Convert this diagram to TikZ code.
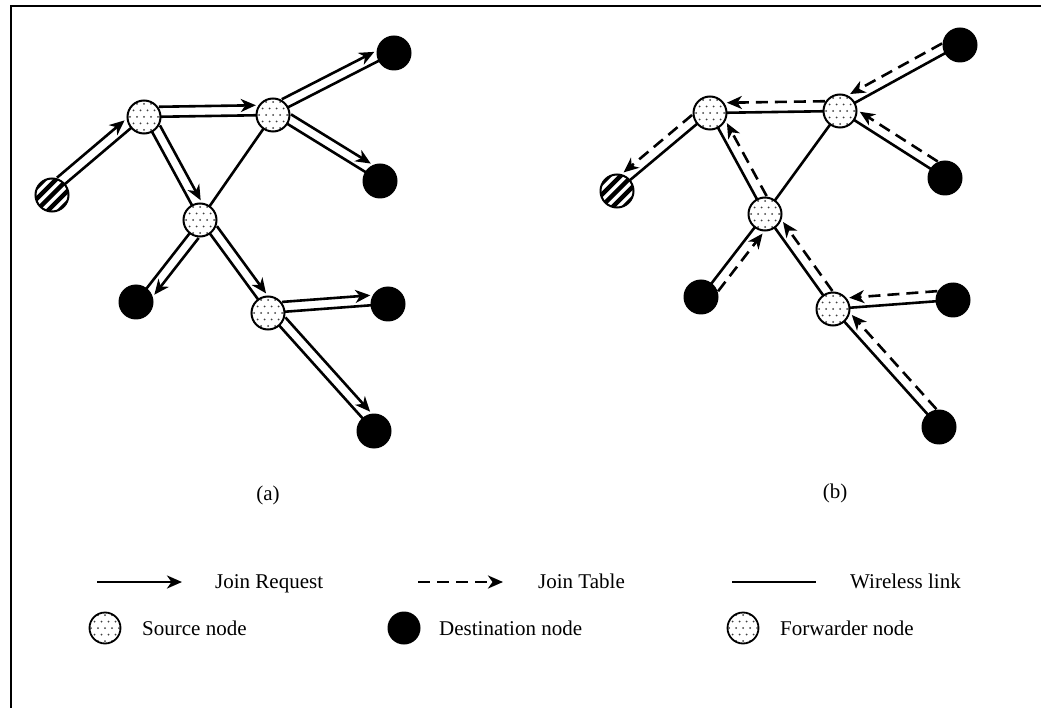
\documentclass[tikz,border=0pt]{standalone}
\usepackage{fontspec}
\setmainfont{Liberation Serif}
\usetikzlibrary{arrows.meta,calc}

% offset flow arrow running beside a link: style, from, to, side angle, opposite angle
\newcommand\flowline[5]{%
  \draw[#1] ($($(#2)!15pt!(#3)$)!10pt!#4:(#3)$) -- ($($(#3)!17pt!(#2)$)!10pt!#5:(#2)$);%
}

\tikzset{
  link/.style={line width=2.6pt},
  jr/.style={line width=2.6pt, -{Stealth[length=15pt,width=13pt,inset=4.5pt]}},
  jt/.style={jr, dash pattern=on 12pt off 7pt},
  dotfill/.style={path picture={
      \foreach \r in {-3,...,3} {
        \foreach \c in {-3,...,3} {
          \fill[black!75] ($(path picture bounding box.center)+({\c*7+mod(\r+10,2)*3.5},{\r*6.5})$) circle (1pt);
        }
      }
  }},
  fwd/.style={circle, draw, line width=2pt, fill=white, minimum size=33pt, inner sep=0pt, dotfill},
  dst/.style={circle, fill=black, minimum size=35pt, inner sep=0pt},
  src/.style={circle, draw, line width=2pt, fill=white, minimum size=33pt, inner sep=0pt,
    path picture={
      \foreach \k in {-4,...,4} {
        \draw[line width=4.5pt] ($(path picture bounding box.center)+(\k*11.5-30,30)$) -- ++(60,-60);
      }
  }},
  lfwd/.style={fwd, minimum size=31pt, line width=1.8pt},
  ldst/.style={dst, minimum size=33pt},
  lbl/.style={font=\fontsize{21}{25}\selectfont, inner sep=0pt},
}

\begin{document}
\begin{tikzpicture}[x=1pt, y=-1pt]
\useasboundingbox (0,0) rectangle (1041,708);
\fill[white] (0,0) rectangle (1041,708);

% frame
\draw[line width=2pt] (11,708) -- (11,6) -- (1041,6);

% ---------- panel (a): join request ----------
\coordinate (aS) at (52,195);
\coordinate (aF1) at (144,117);
\coordinate (aF2) at (273,115);
\coordinate (aF3) at (200,220);
\coordinate (aF4) at (268,313);
\coordinate (aD1) at (394,53);
\coordinate (aD2) at (380,181);
\coordinate (aD3) at (136,302);
\coordinate (aD4) at (388,304);
\coordinate (aD5) at (374,431);

\foreach \u/\v in {aS/aF1, aF1/aF2, aF1/aF3, aF2/aF3, aF2/aD1, aF2/aD2, aF3/aD3, aF3/aF4, aF4/aD4, aF4/aD5}
  \draw[link] (\u) -- (\v);

\flowline{jr}{aS}{aF1}{90}{-90}
\flowline{jr}{aF1}{aF2}{90}{-90}
\flowline{jr}{aF1}{aF3}{90}{-90}
\flowline{jr}{aF2}{aD1}{90}{-90}
\flowline{jr}{aF2}{aD2}{90}{-90}
\flowline{jr}{aF3}{aD3}{90}{-90}
\flowline{jr}{aF3}{aF4}{90}{-90}
\flowline{jr}{aF4}{aD4}{90}{-90}
\flowline{jr}{aF4}{aD5}{90}{-90}

\node[src] (naS) at (aS) {};
\foreach \n in {aF1,aF2,aF3,aF4} \node[fwd] (n\n) at (\n) {};
\foreach \n in {aD1,aD2,aD3,aD4,aD5} \node[dst] (n\n) at (\n) {};

\node[lbl, anchor=base] (capa) at (268,500) {(a)};

% ---------- panel (b): join table ----------
\coordinate (bS) at (617,191);
\coordinate (bF1) at (710,113);
\coordinate (bF2) at (840,111);
\coordinate (bF3) at (765,214);
\coordinate (bF4) at (833,309);
\coordinate (bD1) at (960,45);
\coordinate (bD2) at (945,178);
\coordinate (bD3) at (701,297);
\coordinate (bD4) at (953,300);
\coordinate (bD5) at (939,427);

\foreach \u/\v in {bS/bF1, bF1/bF2, bF1/bF3, bF2/bF3, bF2/bD1, bF2/bD2, bF3/bD3, bF3/bF4, bF4/bD4, bF4/bD5}
  \draw[link] (\u) -- (\v);

\flowline{jt}{bF1}{bS}{-90}{90}
\flowline{jt}{bF2}{bF1}{-90}{90}
\flowline{jt}{bF3}{bF1}{-90}{90}
\flowline{jt}{bD1}{bF2}{-90}{90}
\flowline{jt}{bD2}{bF2}{-90}{90}
\flowline{jt}{bD3}{bF3}{-90}{90}
\flowline{jt}{bF4}{bF3}{-90}{90}
\flowline{jt}{bD4}{bF4}{-90}{90}
\flowline{jt}{bD5}{bF4}{-90}{90}

\node[src] (nbS) at (bS) {};
\foreach \n in {bF1,bF2,bF3,bF4} \node[fwd] (n\n) at (\n) {};
\foreach \n in {bD1,bD2,bD3,bD4,bD5} \node[dst] (n\n) at (\n) {};

\node[lbl, anchor=base] (capb) at (835,498) {(b)};

% ---------- legend ----------
\coordinate (k1a) at (97,582);  \coordinate (k1b) at (182,582);
\coordinate (k2a) at (418,582); \coordinate (k2b) at (503,582);
\coordinate (k3a) at (732,582); \coordinate (k3b) at (816,582);
\draw[jr] (k1a) -- (k1b);
\draw[jt] (k2a) -- (k2b);
\draw[link] (k3a) -- (k3b);
\node[lbl, anchor=base west] (t1) at (215,588) {Join Request};
\node[lbl, anchor=base west] (t2) at (538,588) {Join Table};
\node[lbl, anchor=base west] (t3) at (850,588) {Wireless link};

\node[lfwd] (k4) at (105,628) {};
\node[ldst] (k5) at (404,628) {};
\node[lfwd] (k6) at (743,628) {};
\node[lbl, anchor=base west] (t4) at (142,635) {Source node};
\node[lbl, anchor=base west] (t5) at (439,635) {Destination node};
\node[lbl, anchor=base west] (t6) at (780,635) {Forwarder node};
\end{tikzpicture}
\end{document}
